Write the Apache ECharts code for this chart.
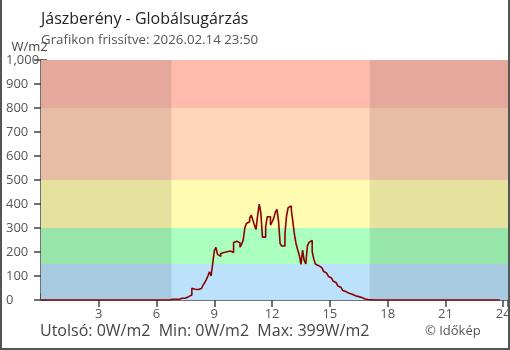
<!DOCTYPE html>
<html>
<head>
<meta charset="utf-8">
<script src="https://cdn.jsdelivr.net/npm/echarts@6/dist/echarts.min.js"></script>
<style>
  html, body { margin: 0; padding: 0; background: #fff; }
  #chart { width: 510px; height: 350px; }
</style>
</head>
<body>
<div id="chart"></div>
<script>
// Global radiation (W/m2), one reading every 5 minutes from 00:00 to 23:50
const stepMinutes = 5;
const nightMorning = [
  0,0,0,0,0,0,0,0,0,0, 0,0,0,0,0,0,0,0,0,0,
  0,0,0,0,0,0,0,0,0,0, 0,0,0,0,0,0,0,0,0,0,
  0,0,0,0,0,0,0,0,0,0, 0,0,0,0,0,0,0,0,0,0,
  0,0,0,0,0,0,0,0,0,0, 0,0,0,0,0,0,0,0,0,0,
  0
];
const daylight = [
  3, 3, 3, 3, 3, 4, 7, 7, 7, 14,
  14, 17, 21, 49, 45, 44, 44, 45, 48, 55,
  62, 72, 85, 100, 118, 100, 153, 205, 219, 190,
  182, 194, 198, 200, 201, 203, 204, 202, 198, 240,
  245, 253, 238, 220, 232, 250, 300, 319, 326, 340,
  354, 333, 312, 294, 354, 399, 362, 262, 262, 306,
  347, 347, 312, 325, 340, 365, 378, 330, 235, 225,
  225, 275, 350, 385, 392, 375, 322, 270, 232, 208,
  185, 148, 208, 165, 150, 225, 240, 248, 201, 170,
  150, 143, 139, 135, 129, 120, 112, 105, 99, 92,
  85, 79, 72, 64, 58, 52, 46, 40, 35, 31,
  28, 26, 24, 21, 18, 16, 14, 12, 10, 7,
  4, 3, 2, 2, 1, 1
];
const nightEvening = [
  0,0,0,0,0,0,0,0,0,0, 0,0,0,0,0,0,0,0,0,0,
  0,0,0,0,0,0,0,0,0,0, 0,0,0,0,0,0,0,0,0,0,
  0,0,0,0,0,0,0,0,0,0, 0,0,0,0,0,0,0,0,0,0,
  0,0,0,0,0,0,0,0,0,0, 0,0,0,0,0,0,0,0,0,0
];
const radiation = nightMorning.concat(daylight, nightEvening);

// Intensity bands (W/m2) and their fill colours
const bandLimits = [0, 150, 300, 500, 800, 1000];
const bandColors = ['#bbe1fb', '#aaffbe', '#fffbb0', '#ffd4b8', '#ffbcae'];
// Dark hours (sunrise / sunset), in hours of the day
const darkPeriods = [[0, 6.78], [17.07, 24.25]];

const titleText = 'Jászberény - Globálsugárzás';
const updatedText = 'Grafikon frissítve: 2026.02.14 23:50';
const unit = 'W/m2';
const creditText = '© Időkép';

const seriesData = radiation.map((v, i) => [i * stepMinutes / 60, v]);
const lastVal = radiation[radiation.length - 1];
const minVal = Math.min(...radiation);
const maxVal = Math.max(...radiation);
const footerText = 'Utolsó: ' + lastVal + unit + '  Min: ' + minVal + unit + '  Max: ' + maxVal + unit;

const FONT = 'Open Sans';
const AX = '#444';

const chart = echarts.init(document.getElementById('chart'));
chart.setOption({
  animation: false,
  textStyle: { fontFamily: FONT },
  title: {
    text: titleText,
    subtext: updatedText,
    left: 36,
    top: 6,
    itemGap: 7,
    textStyle: { fontFamily: FONT, fontSize: 16, fontWeight: 'normal', color: '#222' },
    subtextStyle: { fontFamily: FONT, fontSize: 13.3, color: '#555' }
  },
  grid: { left: 41, right: 2, top: 60, bottom: 50, outerBoundsMode: 'none', containLabel: false },
  xAxis: [
    {
      type: 'value', min: 0, max: 24.25, interval: 3,
      axisLine: { show: true, lineStyle: { color: AX, width: 1.5 } },
      axisTick: { show: true, inside: false, length: 7, lineStyle: { color: AX, width: 1.5 } },
      axisLabel: {
        color: '#555', fontSize: 13, margin: 8, fontFamily: FONT,
        showMinLabel: false,
        formatter: v => (v > 0 && v % 3 === 0) ? String(v) : ''
      },
      splitLine: { show: false }
    },
    {
      type: 'value', min: 0, max: 24.25, interval: 3, position: 'bottom',
      axisLine: { show: false },
      axisTick: { show: true, inside: true, length: 7, lineStyle: { color: AX, width: 1.5 } },
      axisLabel: { show: false },
      splitLine: { show: false }
    }
  ],
  yAxis: [
    {
      type: 'value', min: 0, max: 1000, interval: 100,
      name: unit, nameGap: -7, nameLocation: 'end',
      nameTextStyle: { color: '#444', fontSize: 13, fontFamily: FONT, align: 'center', padding: [0, 0, 0, -23] },
      axisLine: { show: true, lineStyle: { color: AX, width: 1.5 } },
      axisTick: { show: true, inside: false, length: 7, lineStyle: { color: AX, width: 1.5 } },
      axisLabel: { color: '#555', fontSize: 13, fontFamily: FONT, align: 'left', margin: 35 },
      splitLine: { show: false }
    },
    {
      type: 'value', min: 0, max: 1000, interval: 100, position: 'left',
      axisLine: { show: false },
      axisTick: { show: true, inside: true, length: 6, lineStyle: { color: AX, width: 1.5 } },
      axisLabel: { show: false },
      splitLine: { show: false }
    }
  ],
  series: [
    {
      name: 'bands', type: 'line', data: [], z: 1, silent: true,
      markArea: {
        silent: true,
        data: bandColors.map((c, i) => [
          { yAxis: bandLimits[i], itemStyle: { color: c } },
          { yAxis: bandLimits[i + 1] }
        ])
      }
    },
    {
      name: 'dark', type: 'line', data: [], z: 2, silent: true,
      markArea: {
        silent: true,
        itemStyle: { color: 'rgba(0,0,0,0.1)' },
        data: darkPeriods.map(p => [{ xAxis: p[0] }, { xAxis: p[1] }])
      }
    },
    {
      name: 'Globálsugárzás', type: 'line', data: seriesData, z: 5,
      step: 'end', showSymbol: false, symbol: 'none',
      lineStyle: { color: '#8b0000', width: 1.6 }
    }
  ],
  graphic: [
    {
      type: 'text', left: 40, top: 323, z: 10,
      style: { text: footerText, fontSize: 16, fontFamily: FONT, fill: '#444' }
    },
    {
      type: 'text', left: 425, top: 325, z: 10,
      style: { text: creditText, fontSize: 13, fontFamily: FONT, fill: '#555' }
    },
    { type: 'line', z: 20, shape: { x1: 1, y1: 0, x2: 1, y2: 350 }, style: { stroke: '#555', lineWidth: 2 } },
    { type: 'line', z: 20, shape: { x1: 509, y1: 0, x2: 509, y2: 350 }, style: { stroke: '#555', lineWidth: 2 } },
    { type: 'line', z: 20, shape: { x1: 0, y1: 349, x2: 510, y2: 349 }, style: { stroke: '#555', lineWidth: 2 } }
  ]
});
</script>
</body>
</html>
